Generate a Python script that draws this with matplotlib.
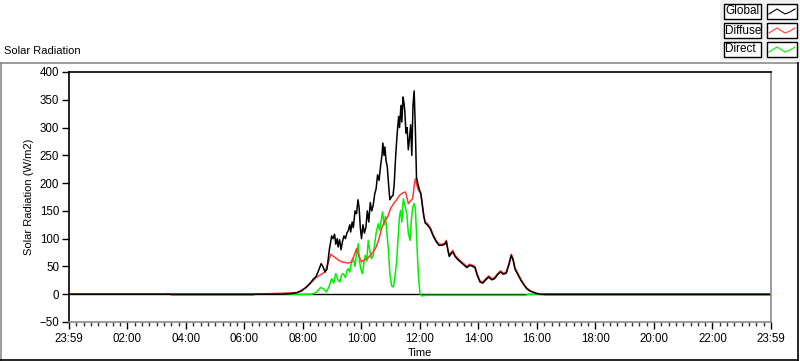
import matplotlib
matplotlib.use("Agg")
import matplotlib.pyplot as plt
from matplotlib.patches import Rectangle
from matplotlib.lines import Line2D
import numpy as np

plt.rcParams['font.family'] = ['Liberation Sans', 'DejaVu Sans']

# ---- data (hours after 23:59, W/m2) ----
tick_hours = [0, 2, 4, 6, 8, 10, 12, 14, 16, 18, 20, 22, 24]
tick_labels = ["23:59", "02:00", "04:00", "06:00", "08:00", "10:00", "12:00",
               "14:00", "16:00", "18:00", "20:00", "22:00", "23:59"]

global_t = [0, 7.3, 7.6, 7.8, 7.95, 8.1, 8.25, 8.35, 8.45, 8.55, 8.62, 8.68, 8.75, 8.82,
            8.9, 8.98, 9.03, 9.08, 9.12, 9.17, 9.2, 9.25, 9.3, 9.35, 9.4, 9.45, 9.5,
            9.55, 9.6, 9.63, 9.68, 9.72, 9.78, 9.83, 9.88, 9.92, 9.96, 10.0, 10.05,
            10.1, 10.15, 10.2, 10.25, 10.3, 10.35, 10.4, 10.45, 10.5, 10.55, 10.6,
            10.65, 10.7, 10.73, 10.77, 10.8, 10.84, 10.88, 10.93, 10.97, 11.02, 11.08,
            11.12, 11.17, 11.22, 11.27, 11.3, 11.35, 11.38, 11.42, 11.45, 11.48, 11.52,
            11.56, 11.6, 11.64, 11.68, 11.72, 11.76, 11.8, 11.84, 11.88, 11.92, 11.97,
            12.03, 12.08, 12.13, 12.18, 12.25, 12.35, 12.45, 12.55, 12.65, 12.75,
            12.85, 12.9, 12.95, 13.0, 13.05, 13.12, 13.2, 13.3, 13.45, 13.6, 13.7,
            13.8, 13.88, 13.95, 14.05, 14.15, 14.25, 14.35, 14.45, 14.55, 14.65, 14.75,
            14.85, 14.95, 15.05, 15.12, 15.18, 15.25, 15.35, 15.45, 15.55, 15.65, 15.75,
            15.85, 15.95, 16.1, 24]
global_v = [0, 0, 1, 3, 6, 12, 20, 27, 32, 45, 55, 50, 40, 45,
            80, 105, 100, 108, 90, 100, 85, 98, 80, 95, 105, 100, 110,
            115, 125, 112, 130, 120, 150, 145, 170, 155, 120, 100, 125,
            110, 120, 150, 130, 165, 150, 160, 180, 190, 215, 205,
            230, 250, 272, 250, 265, 240, 230, 195, 170, 175, 178,
            200, 250, 290, 320, 300, 340, 310, 355, 345, 330, 290,
            300, 260, 280, 305, 250, 340, 366, 300, 210, 200, 190,
            180, 160, 140, 128, 125, 118, 105, 95, 88, 88,
            90, 95, 80, 68, 72, 76, 68, 62, 55, 48, 52,
            50, 48, 35, 22, 20, 26, 31, 26, 28, 35, 40,
            36, 38, 55, 70, 62, 45, 35, 25, 17, 10, 6,
            4, 2, 0, 0]

diffuse_t = [0, 3.45, 3.5, 6.3, 6.35, 7.8, 8.1, 8.3, 8.45, 8.6, 8.75, 8.85, 8.95, 9.05,
             9.15, 9.25, 9.35, 9.45, 9.55, 9.65, 9.75, 9.83, 9.9, 10.0, 10.1, 10.2,
             10.3, 10.4, 10.5, 10.6, 10.7, 10.8, 10.9, 11.0, 11.1, 11.2, 11.3, 11.4,
             11.5, 11.55, 11.6, 11.68, 11.75, 11.8, 11.84, 11.9, 11.95, 12.03, 12.08,
             12.13, 12.18, 12.25, 12.35, 12.45, 12.55, 12.65, 12.75, 12.85, 12.9,
             12.95, 13.0, 13.05, 13.12, 13.2, 13.3, 13.45, 13.6, 13.7, 13.8, 13.88,
             13.95, 14.05, 14.15, 14.25, 14.35, 14.45, 14.55, 14.65, 14.75, 14.85,
             14.95, 15.05, 15.12, 15.18, 15.25, 15.35, 15.45, 15.55, 15.65, 15.75,
             15.85, 15.95, 16.1, 16.3, 24]
diffuse_v = [0, 0, -1.5, -1.5, 0, 3, 12, 22, 30, 35, 40, 55, 72, 68,
             64, 60, 58, 57, 56, 58, 70, 82, 70, 58, 62, 64,
             70, 76, 85, 100, 120, 132, 140, 155, 163, 170, 178, 182,
             184, 175, 163, 168, 172, 195, 208, 195, 187, 182, 162,
             142, 130, 127, 120, 107, 97, 90, 90, 92, 97,
             82, 70, 75, 79, 70, 64, 57, 50, 54, 52, 50,
             37, 24, 22, 28, 33, 28, 30, 37, 42, 38,
             40, 57, 72, 64, 47, 37, 27, 18, 11, 7,
             4, 2, 0, -1.5, -1.5]

direct_t = [0, 8.3, 8.45, 8.6, 8.7, 8.8, 8.9, 8.98, 9.05, 9.12, 9.2, 9.26, 9.32, 9.38,
            9.45, 9.5, 9.55, 9.6, 9.65, 9.72, 9.78, 9.83, 9.89, 9.93, 9.98, 10.03,
            10.08, 10.13, 10.18, 10.23, 10.28, 10.34, 10.4, 10.45, 10.5, 10.57, 10.62,
            10.68, 10.72, 10.77, 10.82, 10.86, 10.92, 10.97, 11.03, 11.09, 11.14, 11.2,
            11.25, 11.3, 11.34, 11.38, 11.43, 11.48, 11.55, 11.6, 11.66, 11.7, 11.75,
            11.8, 11.84, 11.88, 11.91, 11.95, 12.0, 12.05, 12.2, 15.6, 15.7, 16.0, 24]
direct_v = [0, 0, 3, 12, 10, 4, 15, 28, 20, 37, 25, 22, 35, 37,
            30, 42, 46, 40, 55, 64, 50, 75, 91, 60, 45, 37,
            55, 70, 60, 97, 80, 64, 70, 90, 110, 127, 115,
            135, 148, 125, 140, 115, 80, 37, 15, 13, 30, 58,
            100, 140, 151, 130, 172, 160, 145, 110, 97, 130, 157,
            163, 155, 110, 73, 30, 1, -3, -2, -2, 0, 0, 0]

series_names = ["Global", "Diffuse", "Direct"]
series_colors = ["#000000", "#ff3a3a", "#00f000"]

# ---- figure ----
W, H = 800, 361
fig = plt.figure(figsize=(W / 100, H / 100), dpi=100)


def fx(px):
    return px / W


def fy(py):
    return 1 - py / H


# outer panel frame
fig.add_artist(Line2D([fx(0), fx(797.5)], [fy(62.5), fy(62.5)], color="#8a8a8a", lw=1.2))
fig.add_artist(Line2D([fx(0.6), fx(0.6)], [fy(62.5), fy(359.5)], color="#8a8a8a", lw=1.2))
fig.add_artist(Line2D([fx(0), fx(797.5)], [fy(359.5), fy(359.5)], color="black", lw=1.2))
fig.add_artist(Line2D([fx(797.5), fx(797.5)], [fy(62.5), fy(359.5)], color="black", lw=1.2))

fig.text(fx(4), fy(51), "Solar Radiation", ha="left", va="center", fontsize=8)

ax = fig.add_axes([fx(69), fy(322), fx(771) - fx(69), fy(72) - fy(322)])
ax.plot(direct_t, direct_v, color=series_colors[2], lw=1.1)
ax.plot(diffuse_t, diffuse_v, color=series_colors[1], lw=1.1)
ax.plot(global_t, global_v, color=series_colors[0], lw=1.1)
ax.axhline(0, color="black", lw=1, zorder=0.5)

ax.set_xlim(0, 24)
ax.set_ylim(-50, 400)
ax.set_yticks(np.arange(-50, 401, 50))
ax.set_xticks(tick_hours)
ax.set_xticklabels(tick_labels)
ax.set_xticks(np.arange(0, 24.01, 0.25), minor=True)

for s in ["left", "top"]:
    ax.spines[s].set_color("black")
    ax.spines[s].set_linewidth(1.2)
for s in ["right", "bottom"]:
    ax.spines[s].set_color("#8a8a8a")
    ax.spines[s].set_linewidth(1.2)

ax.tick_params(axis="y", direction="out", length=5, width=1, color="black",
               labelsize=8.3, pad=2)
ax.tick_params(axis="x", which="major", direction="out", length=5, width=1,
               color="black", labelsize=8.3, pad=3)
ax.tick_params(axis="x", which="minor", direction="out", length=3, width=1,
               color="#333333")
ax.set_ylabel("Solar Radiation (W/m2)", fontsize=8, labelpad=4)
ax.set_xlabel("Time", fontsize=8, labelpad=2)

# legend panel
fig.add_artist(Rectangle((fx(720), fy(61)), fx(800) - fx(720), fy(0) - fy(61),
                         facecolor="#f0f0f0", edgecolor="none", zorder=0))
rows_y = [4, 23, 42]
for name, col, y0 in zip(series_names, series_colors, rows_y):
    fig.add_artist(Rectangle((fx(723.5), fy(y0 + 15)), fx(761) - fx(723.5), fy(y0) - fy(y0 + 15),
                             facecolor="white", edgecolor="black", lw=1))
    fig.text(fx(725.5), fy(y0 + 7.5), name, ha="left", va="center", fontsize=8.5)
    fig.add_artist(Rectangle((fx(766.5), fy(y0 + 15)), fx(797) - fx(766.5), fy(y0) - fy(y0 + 15),
                             facecolor="white", edgecolor="black", lw=1))
    zx = [769, 777, 785, 790, 795]
    zy = [y0 + 10, y0 + 5, y0 + 10, y0 + 8, y0 + 5]
    fig.add_artist(Line2D([fx(v) for v in zx], [fy(v) for v in zy], color=col, lw=0.8))

fig.savefig("out.png", dpi=100)
